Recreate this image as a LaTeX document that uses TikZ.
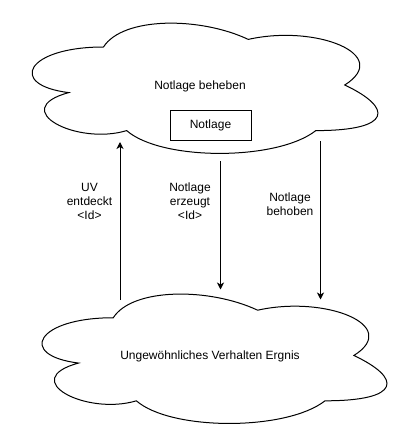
\documentclass[tikz,border=0pt]{standalone}
\usepackage{fontspec}
\setmainfont{Liberation Sans}
\usetikzlibrary{arrows.meta}
\tikzset{
  cloudline/.style={draw=black,line width=1pt},
  label12/.style={font=\fontsize{12}{14}\selectfont,align=center,inner sep=0pt,text=black},
  boxnode/.style={draw=black,line width=1pt,minimum width=81pt,minimum height=30pt,inner sep=0pt,font=\fontsize{12}{14}\selectfont},
  arrowline/.style={draw=black,line width=1pt,-{Stealth[length=7pt,width=7pt,inset=2pt]}}
}
\newcommand\mxcloud[4]{%
\draw[cloudline] ({#1+0.25*#3},{#2+0.25*#4})
 .. controls ({#1+0.05*#3},{#2+0.25*#4}) and ({#1},{#2+0.5*#4}) .. ({#1+0.16*#3},{#2+0.55*#4})
 .. controls ({#1},{#2+0.66*#4}) and ({#1+0.18*#3},{#2+0.9*#4}) .. ({#1+0.31*#3},{#2+0.8*#4})
 .. controls ({#1+0.4*#3},{#2+#4}) and ({#1+0.7*#3},{#2+#4}) .. ({#1+0.8*#3},{#2+0.8*#4})
 .. controls ({#1+#3},{#2+0.8*#4}) and ({#1+#3},{#2+0.65*#4}) .. ({#1+0.875*#3},{#2+0.5*#4})
 .. controls ({#1+#3},{#2+0.3*#4}) and ({#1+0.8*#3},{#2+0.1*#4}) .. ({#1+0.625*#3},{#2+0.2*#4})
 .. controls ({#1+0.5*#3},{#2+0.05*#4}) and ({#1+0.3*#3},{#2+0.05*#4}) .. ({#1+0.25*#3},{#2+0.25*#4})
 -- cycle;}
\begin{document}
\begin{tikzpicture}[x=1pt,y=-1pt]
\useasboundingbox[fill=white] (0,0) rectangle (411,441);
% clouds
\mxcloud{7}{9}{386}{152}
\mxcloud{17}{280}{385}{151}
\node[label12] (topcloud) at (200,86) {Notlage beheben};
\node[label12] (botcloud) at (210,356) {Ungewöhnliches Verhalten Ergnis};
\node[boxnode] (notlage) at (210.5,125) {Notlage};
% connector ends
\coordinate (uvS) at (120,300);
\coordinate (uvE) at (120,142);
\coordinate (nzS) at (220.5,161);
\coordinate (nzE) at (220.5,289.5);
\coordinate (nbS) at (320.5,141);
\coordinate (nbE) at (320.5,299.5);
\draw[arrowline] (uvS) -- (uvE);
\draw[arrowline] (nzS) -- (nzE);
\draw[arrowline] (nbS) -- (nbE);
% labels
\node[label12] (uvlab) at (89.5,201.5) {UV\\entdeckt\\<Id>};
\node[label12] (nzlab) at (190,201.5) {Notlage\\erzeugt\\<Id>};
\node[label12] (nblab) at (290,204.5) {Notlage\\behoben};
\end{tikzpicture}
\end{document}
